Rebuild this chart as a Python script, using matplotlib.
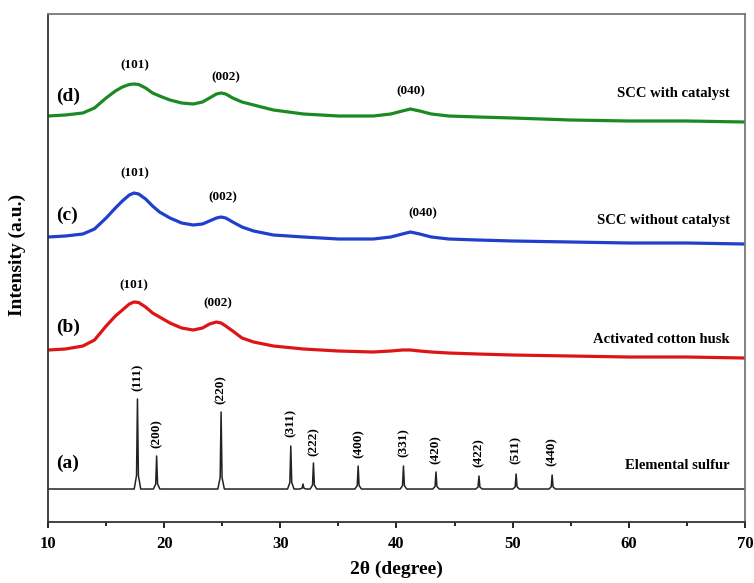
"""XRD patterns: elemental sulfur, activated cotton husk and SCC composites."""

import matplotlib.pyplot as plt

plt.rcParams['font.family'] = ['Liberation Serif', 'DejaVu Serif']
plt.rcParams['font.weight'] = 'bold'

# broad patterns (offset intensity, a.u.)
two_theta = [10, 11.5, 13, 14, 15, 15.8, 16.4, 17.0, 17.4, 17.8, 18.4, 19.0,
             19.6, 20.5, 21.5, 22.5, 23.3, 23.9, 24.5, 24.9, 25.3, 25.9, 26.7,
             27.7, 29.4, 32, 35, 38, 39.5, 40.5, 41.2, 42, 43, 44.5, 47, 50,
             55, 60, 65, 70]
scc_cat = [406, 407, 409, 414, 424, 431, 435, 437.5, 438, 437.5, 434, 429,
           426, 422, 419, 418, 420, 424, 428, 429, 428, 424, 420,
           417, 412, 408, 406, 406, 408, 411, 413, 411, 408, 406, 405, 404,
           402, 401, 401, 400]
scc_nocat = [285, 286, 288, 293, 304, 314, 321, 327, 329, 328, 323, 316,
             310, 304, 299, 297, 298, 301, 304, 305, 304, 300, 295,
             291, 287, 285, 283, 283, 285, 288, 290, 288, 285, 283, 282, 281,
             280, 279, 279, 278]
cotton = [172, 173, 176, 182, 196, 206, 212, 218, 220, 219.5, 215, 209,
          205, 199, 194, 192, 194, 198, 200, 199, 196, 191, 184,
          180, 176, 173, 171, 170, 171, 172, 172, 171, 170, 169, 168, 167,
          166, 165, 165, 164]

# elemental sulfur reflections
sulfur_base = 33
sulfur_pos = [17.7, 19.35, 24.9, 30.9, 31.95, 32.85, 36.7, 40.6, 43.4, 47.1, 50.3, 53.4]
sulfur_height = [90, 33, 77, 43, 5, 26, 23, 23, 17, 13, 15, 14]
sulfur_hkl = ['(111)', '(200)', '(220)', '(311)', None, '(222)', '(400)',
              '(331)', '(420)', '(422)', '(511)', '(440)']
sulfur_label_y = [145, 88, 132, 99, None, 80, 78, 79, 72, 69, 72, 70]

# build the sulfur trace from the reflections
sx, sy = [10], [sulfur_base]
for p, h in zip(sulfur_pos, sulfur_height):
    sx += [p - 0.28, p - 0.08, p, p + 0.08, p + 0.28]
    sy += [sulfur_base, sulfur_base + 0.15 * h, sulfur_base + h,
           sulfur_base + 0.15 * h, sulfur_base]
sx.append(70)
sy.append(sulfur_base)

fig = plt.figure(figsize=(7.54, 5.83), dpi=100)
ax = fig.add_axes([0.0637, 0.1046, 0.9243, 0.8714])

ax.plot(two_theta, scc_cat, color='#1c8a22', lw=2.3)
ax.plot(two_theta, scc_nocat, color='#1f3fcc', lw=2.3)
ax.plot(two_theta, cotton, color='#dd1515', lw=2.3)
ax.plot(sx, sy, color='#222222', lw=1.1)

ax.set_xlim(10, 70)
ax.set_ylim(0, 508)
ax.set_yticks([])
ax.set_xticks([10, 20, 30, 40, 50, 60, 70])
ax.set_xticks([15, 25, 35, 45, 55, 65], minor=True)
ax.tick_params(axis='x', which='major', length=4, width=1.2, labelsize=12, pad=6)
ax.tick_params(axis='x', which='minor', length=3, width=1.2)
for lab in ax.get_xticklabels():
    lab.set_fontweight('bold')
for side in ['left', 'bottom']:
    ax.spines[side].set_color('#333333')
    ax.spines[side].set_linewidth(1.3)
for side in ['top', 'right']:
    ax.spines[side].set_color('#777777')
    ax.spines[side].set_linewidth(1.3)

ax.set_xlabel('2θ (degree)', fontsize=14, fontweight='bold', labelpad=6)
ax.set_ylabel('Intensity (a.u.)', fontsize=14, fontweight='bold')
ax.yaxis.set_label_coords(-0.032, 0.525)

pk = dict(fontsize=9.5, fontweight='bold', ha='center', va='center')
side = dict(fontsize=14, fontweight='bold', ha='left', va='center')
name = dict(fontsize=10.5, fontweight='bold', ha='right', va='center')

# (d)
ax.text(17.5, 457, '(101)', **pk)
ax.text(25.3, 445, '(002)', **pk)
ax.text(41.2, 431, '(040)', **pk)
ax.text(10.7, 426, '(d)', **side)
ax.text(68.7, 428, 'SCC with catalyst', **name)
# (c)
ax.text(17.5, 349, '(101)', **pk)
ax.text(25.05, 325, '(002)', **pk)
ax.text(42.3, 309, '(040)', **pk)
ax.text(10.7, 307, '(c)', **side)
ax.text(68.7, 302, 'SCC without catalyst', **name)
# (b)
ax.text(17.4, 237, '(101)', **pk)
ax.text(24.6, 219, '(002)', **pk)
ax.text(10.7, 195, '(b)', **side)
ax.text(68.7, 183, 'Activated cotton husk', **name)
# (a)
ax.text(10.7, 59, '(a)', **side)
ax.text(68.7, 57, 'Elemental sulfur', **name)
for p, hkl, ly in zip(sulfur_pos, sulfur_hkl, sulfur_label_y):
    if hkl:
        ax.text(p, ly, hkl, rotation=90, **pk)

fig.savefig('out.png', dpi=100, facecolor='white')
